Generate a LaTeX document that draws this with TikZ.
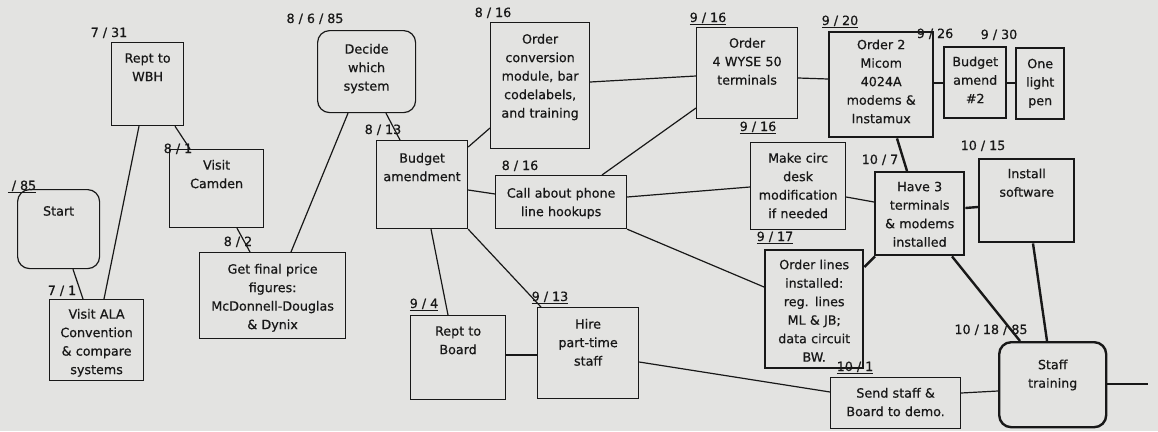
\documentclass[tikz,border=0pt]{standalone}
\usepackage{fontspec}
\setmainfont{DejaVu Sans}[FakeBold=0.6]
\usetikzlibrary{calc}
\definecolor{paper}{HTML}{E3E3E1}
\definecolor{ink}{HTML}{181818}
\newcommand{\dsl}{\kern4pt/\kern4pt}
\tikzset{
  every picture/.style={font=\fontsize{12.7}{18.5}\selectfont, line width=1.2pt, x=1pt, y=-1pt},
  task/.style={draw=ink, text=ink, align=center, inner xsep=0pt, inner ysep=0pt, anchor=north west},
  heavy/.style={line width=2.4pt},
  rounded/.style={rounded corners=12pt},
  date/.style={text=ink, anchor=base, inner sep=0pt},
  link/.style={draw=ink},
}

\begin{document}
\begin{tikzpicture}
  \useasboundingbox (0,0) rectangle (1158,431);
  \fill[paper] (0,0) rectangle (1158,431);

  \node[task, rounded, text width=82pt, text height=26pt, text depth=53pt] (start) at (17,189) {Start};
  \node[task, text width=72pt, text height=20pt, text depth=63pt] (wbh) at (111,42) {Rept to\\WBH};
  \node[task, text width=94pt, text height=19pt, text depth=62pt] (ala) at (49,299) {Visit ALA\\Convention\\\& compare\\systems};
  \node[task, text width=94pt, text height=20pt, text depth=58pt] (camden) at (169,149) {Visit\\Camden};
  \node[task, text width=146pt, text height=21pt, text depth=65pt] (final) at (199,252) {Get final price\\figures:\\McDonnell-Douglas\\\& Dynix};
  \node[task, rounded, text width=98pt, text height=23pt, text depth=59pt] (decide) at (317,30) {Decide\\which\\system};
  \node[task, text width=91pt, text height=22pt, text depth=66pt] (budget) at (376,140) {Budget\\amendment};
  \node[task, text width=95pt, text height=20pt, text depth=64pt] (board) at (410,315) {Rept to\\Board};
  \node[task, text width=101pt, text height=21pt, text depth=70pt] (hire) at (537,307) {Hire\\part-time\\staff};
  \node[task, text width=99pt, text height=21pt, text depth=105pt] (conv) at (490,22) {Order\\conversion\\module, bar\\codelabels,\\and training};
  \node[task, text width=131pt, text height=22pt, text depth=31pt] (call) at (495,175) {Call about phone\\line hookups};
  \node[task, text width=101pt, text height=20pt, text depth=71pt] (wyse) at (696,27) {Order\\4 WYSE 50\\terminals};
  \node[task, text width=95pt, text height=20pt, text depth=67pt] (circ) at (750,142) {Make circ\\desk\\modification\\if needed};
  \node[task, heavy, text width=98pt, text height=19pt, text depth=99pt] (lines) at (764,249) {Order lines\\installed:\\reg. lines\\ML \& JB;\\data circuit\\BW.};
  \node[task, heavy, text width=104pt, text height=17pt, text depth=88pt] (micom) at (828,31) {Order 2\\Micom\\4024A\\modems \&\\Instamux};
  \node[task, heavy, text width=62pt, text height=19pt, text depth=52pt] (amend) at (943,46) {Budget\\amend\\\#2};
  \node[task, heavy, text width=48pt, text height=20pt, text depth=51pt] (pen) at (1015,47) {One\\light\\pen};
  \node[task, heavy, text width=89pt, text height=19pt, text depth=64pt] (have) at (874,171) {Have 3\\terminals\\\& modems\\installed};
  \node[task, heavy, text width=95pt, text height=19pt, text depth=64pt] (install) at (978,158) {Install\\software};
  \node[task, heavy, rounded, text width=107pt, text height=27pt, text depth=58pt] (training) at (998,341) {Staff\\training};
  \node[task, text width=130pt, text height=20pt, text depth=31pt] (send) at (830,377) {Send staff \&\\Board to demo.};
  \coordinate (finish) at (1148,384);

  \node[date] (d85) at (22,190) {\underline{\dsl 85}};
  \node[date] (d731) at (109,37) {7\dsl 31};
  \node[date] (d81) at (178,153) {8\dsl 1};
  \node[date] (d71) at (62,295) {7\dsl 1};
  \node[date] (d8685) at (315,23) {8\dsl 6\dsl 85};
  \node[date] (d813) at (383,134) {8\dsl 13};
  \node[date] (d82) at (238,246) {8\dsl 2};
  \node[date] (d816a) at (493,17) {8\dsl 16};
  \node[date] (d816b) at (520,170) {8\dsl 16};
  \node[date] (d94) at (424,308) {\underline{9\dsl 4}};
  \node[date] (d913) at (550,301) {\underline{9\dsl 13}};
  \node[date] (d916a) at (708,22) {\underline{9\dsl 16}};
  \node[date] (d916b) at (758,131) {\underline{9\dsl 16}};
  \node[date] (d917) at (775,241) {\underline{9\dsl 17}};
  \node[date] (d920) at (840,25) {\underline{9\dsl 20}};
  \node[date] (d926) at (935,38) {9\dsl 26};
  \node[date] (d930) at (999,39) {9\dsl 30};
  \node[date] (d107) at (880,164) {10\dsl 7};
  \node[date] (d1015) at (983,150) {10\dsl 15};
  \node[date] (d101) at (855,371) {\underline{10\dsl 1}};
  \node[date] (d101885) at (991,334) {10\dsl 18\dsl 85};

  \draw[link] ([xshift=56pt]start.south west) -- ([xshift=34pt]ala.north west);
  \draw[link] ([xshift=28pt]wbh.south west) -- ([xshift=55pt]ala.north west);
  \draw[link] ([xshift=64pt]wbh.south west) -- ([xshift=21pt]camden.north west);
  \draw[link] ([xshift=68pt]camden.south west) -- ([xshift=51pt]final.north west);
  \draw[link] ([xshift=31pt]decide.south west) -- ([xshift=92pt]final.north west);
  \draw[link] ([xshift=69pt]decide.south west) -- ([xshift=24pt]budget.north west);
  \draw[link] ([yshift=-7pt]budget.north east) -- ([yshift=-106pt]conv.north west);
  \draw[link] ([yshift=-50pt]budget.north east) -- ([yshift=-19pt]call.north west);
  \draw[link] ([xshift=55pt]budget.south west) -- ([xshift=38pt]board.north west);
  \draw[link] (budget.south east) -- ([xshift=4pt]hire.north west);
  \draw[link] ([yshift=-40pt]board.north east) -- ([yshift=-48pt]hire.north west);
  \draw[link] ([yshift=-60pt]conv.north east) -- ([yshift=-49pt]wyse.north west);
  \draw[link] ([xshift=107pt]call.north west) -- ([yshift=-81pt]wyse.north west);
  \draw[link] ([yshift=-22pt]call.north east) -- ([yshift=-45pt]circ.north west);
  \draw[link] (call.south east) -- ([yshift=-38pt]lines.north west);
  \draw[link] ([yshift=-51pt]wyse.north east) -- ([yshift=-48pt]micom.north west);
  \draw[link] ([yshift=-55pt]circ.north east) -- ([yshift=-31pt]have.north west);
  \draw[link] ([yshift=-55pt]hire.north east) -- ([yshift=-15pt]send.north west);
  \draw[link] ([yshift=-16pt]send.north east) -- ([yshift=-50pt]training.north west);
  \draw[link, heavy] ([yshift=-52pt]micom.north east) -- ([yshift=-37pt]amend.north west);
  \draw[link, heavy] ([yshift=-37pt]amend.north east) -- ([yshift=-36pt]pen.north west);
  \draw[link, heavy] ([xshift=69pt]micom.south west) -- ([xshift=33pt]have.north west);
  \draw[link, heavy] ([yshift=-18pt]lines.north east) -- ([xshift=1pt]have.south west);
  \draw[link, heavy] ([yshift=-37pt]have.north east) -- ([yshift=-49pt]install.north west);
  \draw[link, heavy] ([xshift=78pt]have.south west) -- ([xshift=22pt]training.north west);
  \draw[link, heavy] ([xshift=55pt]install.south west) -- ([xshift=49pt]training.north west);
  \draw[link, heavy] ([yshift=-43pt]training.north east) -- (finish);
\end{tikzpicture}
\end{document}
